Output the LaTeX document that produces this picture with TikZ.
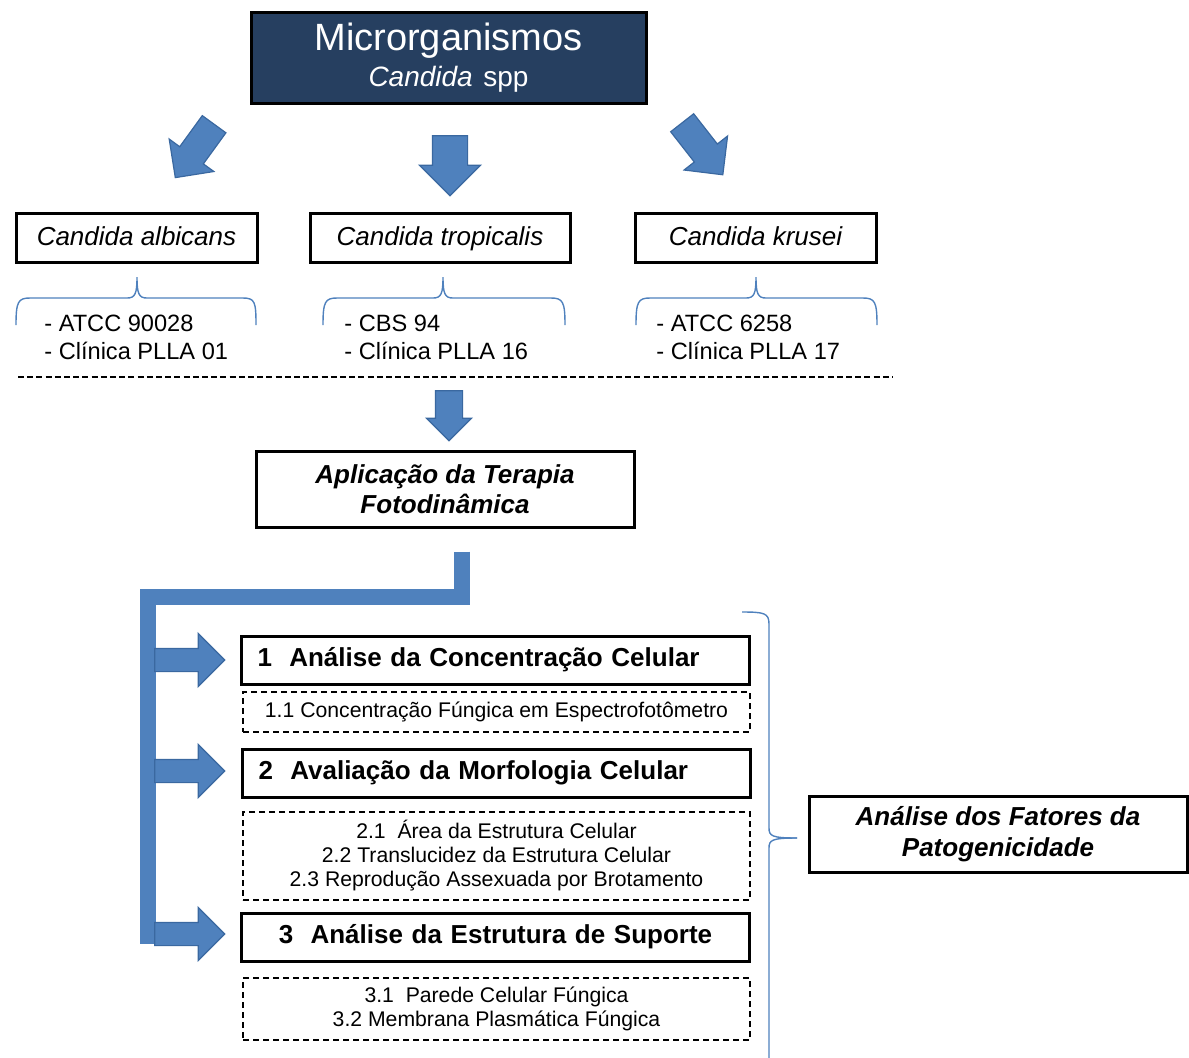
\documentclass[tikz,border=0pt]{standalone}
\usepackage{fontspec}
\setmainfont{Liberation Sans}
\usepackage{xcolor}
\usepackage{tikz}
\usetikzlibrary{shapes.arrows, positioning, calc}

\definecolor{navy}{RGB}{38,63,96}
\definecolor{azul}{RGB}{79,129,189}
\definecolor{azulborda}{RGB}{58,104,160}

\begin{document}
\begin{tikzpicture}[
            x=0.5pt, y=-0.5pt,
            especie/.style={rectangle, draw=black, line width=1.5pt, minimum width=120.5pt, minimum height=24.5pt, inner sep=0pt, text height=9.5pt, text depth=2.5pt, font=\fontsize{13}{15}\selectfont\itshape},
            cepa/.style={anchor=west, align=left, inner sep=0pt, font=\fontsize{11.8}{14}\selectfont},
            titulo/.style={rectangle, draw=black, line width=1.5pt, align=center, inner sep=0pt, font=\fontsize{13}{15}\selectfont\bfseries\itshape},
            etapa/.style={rectangle, draw=black, line width=1.5pt, minimum height=24pt, text width=238pt, inner xsep=8pt, inner ysep=0pt, font=\fontsize{13}{15}\selectfont\bfseries},
            detalhe/.style={rectangle, draw=black, line width=0.6pt, dash pattern=on 3pt off 2pt, minimum width=253.5pt, align=center, inner sep=0pt, font=\fontsize{10.6}{12}\selectfont},
            setabloco/.style={single arrow, draw=azulborda, fill=azul, line width=0.6pt, inner xsep=0pt},
            chave/.style={draw=azul, line width=0.7pt}
        ]
        \useasboundingbox (0,0) rectangle (1189,1057);

        % --- Top ---
        \node[rectangle, draw=black, line width=1.5pt, fill=navy, text=white, align=center, minimum width=197.5pt, minimum height=45.5pt, font=\fontsize{19}{18}\selectfont] (micro) at (448.5,57.5) {Microrganismos\\{\fontsize{14}{18}\selectfont\itshape Candida} {\fontsize{14}{18}\selectfont spp}};

        \node[setabloco, rotate=-126, minimum height=33pt, inner ysep=7pt, single arrow head extend=6.5pt] (setaA) at (199,145) {};
        \node[setabloco, rotate=-90, minimum height=30pt, inner ysep=8.5pt, single arrow head extend=6.5pt] (setaT) at (450,157) {};
        \node[setabloco, rotate=-52, minimum height=33pt, inner ysep=7pt, single arrow head extend=6.5pt] (setaK) at (698,143) {};

        % --- Species ---
        \node[especie] (albicans) at (136.5,238) {Candida albicans};
        \node[especie, minimum width=130pt] (tropicalis) at (440,238) {Candida tropicalis};
        \node[especie] (krusei) at (755.5,238) {Candida krusei};

        \draw[chave] (16,325) .. controls (16,302) and (18,298) .. (30,298) -- (127,298) .. controls (135,298) and (137,294) .. (137,277) .. controls (137,294) and (139,298) .. (147,298) -- (243,298) .. controls (255,298) and (256,302) .. (256,325);
        \draw[chave] (323,325) .. controls (323,302) and (325,298) .. (337,298) -- (433,298) .. controls (441,298) and (443,294) .. (443,277) .. controls (443,294) and (445,298) .. (453,298) -- (551,298) .. controls (563,298) and (565,302) .. (565,325);
        \draw[chave] (636,325) .. controls (636,302) and (638,298) .. (650,298) -- (746,298) .. controls (754,298) and (756,294) .. (756,277) .. controls (756,294) and (758,298) .. (766,298) -- (863,298) .. controls (875,298) and (877,302) .. (877,325);

        \node[cepa] (cepaA) at (44,337) {- ATCC 90028\\- Clínica PLLA 01};
        \node[cepa] (cepaT) at (344,337) {- CBS 94\\- Clínica PLLA 16};
        \node[cepa] (cepaK) at (656,337) {- ATCC 6258\\- Clínica PLLA 17};

        \coordinate (sepL) at (18,377);
        \coordinate (sepR) at (893,377);
        \draw[line width=0.6pt, dash pattern=on 3pt off 1.6pt] (sepL) -- (sepR);

        % --- Terapia ---
        \node[setabloco, rotate=-90, minimum height=25pt, inner ysep=6.5pt, single arrow head extend=4.5pt] (setaTF) at (449,409) {};
        \node[titulo, minimum width=189pt, minimum height=38pt] (aplic) at (445,489) {Aplicação da Terapia\\Fotodinâmica};

        \coordinate (busTop) at ($(aplic.south)+(17,23)$);
        \coordinate (busLeft) at (148,597);
        \coordinate (busBottom) at (148,944);
        \draw[azul, line width=8pt] (busTop) |- (busLeft) -- (busBottom);

        % --- Analyses ---
        \node[etapa, align=left] (etapa1) at (495.5,660) {1~~Análise da Concentração Celular};
        \node[detalhe, minimum height=20pt] (det1) at (496.5,712) {1.1 Concentração Fúngica em Espectrofotômetro};
        \node[etapa, align=left] (etapa2) at (496.5,773) {2~~Avaliação da Morfologia Celular};
        \node[detalhe, minimum height=44pt] (det2) at (496.5,856) {2.1~~Área da Estrutura Celular\\2.2 Translucidez da Estrutura Celular\\2.3 Reprodução Assexuada por Brotamento};
        \node[etapa, align=center] (etapa3) at (495.5,937) {3~~Análise da Estrutura de Suporte};
        \node[detalhe, minimum height=31pt] (det3) at (496.5,1009) {3.1~~Parede Celular Fúngica\\3.2 Membrana Plasmática Fúngica};

        \node[setabloco, minimum height=35pt, inner ysep=5.5pt, single arrow head extend=7.5pt] (seta1) at (184,660) {};
        \node[setabloco, minimum height=35pt, inner ysep=5.5pt, single arrow head extend=7.5pt] (seta2) at (184,771) {};
        \node[setabloco, minimum height=35pt, inner ysep=5.5pt, single arrow head extend=7.5pt] (seta3) at (184,934) {};

        % --- Pathogenicity ---
        \node[titulo, minimum width=189pt, minimum height=38pt, font=\fontsize{13}{15.5}\selectfont\bfseries\itshape] (fatores) at (998,834) {Análise dos Fatores da\\Patogenicidade};

        \draw[chave] (742,612) .. controls (764,612) and (769,613) .. (769,624) -- (769,828) .. controls (769,836) and (772,838) .. (797,838);
        \draw[chave] (797,838) .. controls (772,838) and (769,840) .. (769,848) -- (769,1062);

\end{tikzpicture}
\end{document}
